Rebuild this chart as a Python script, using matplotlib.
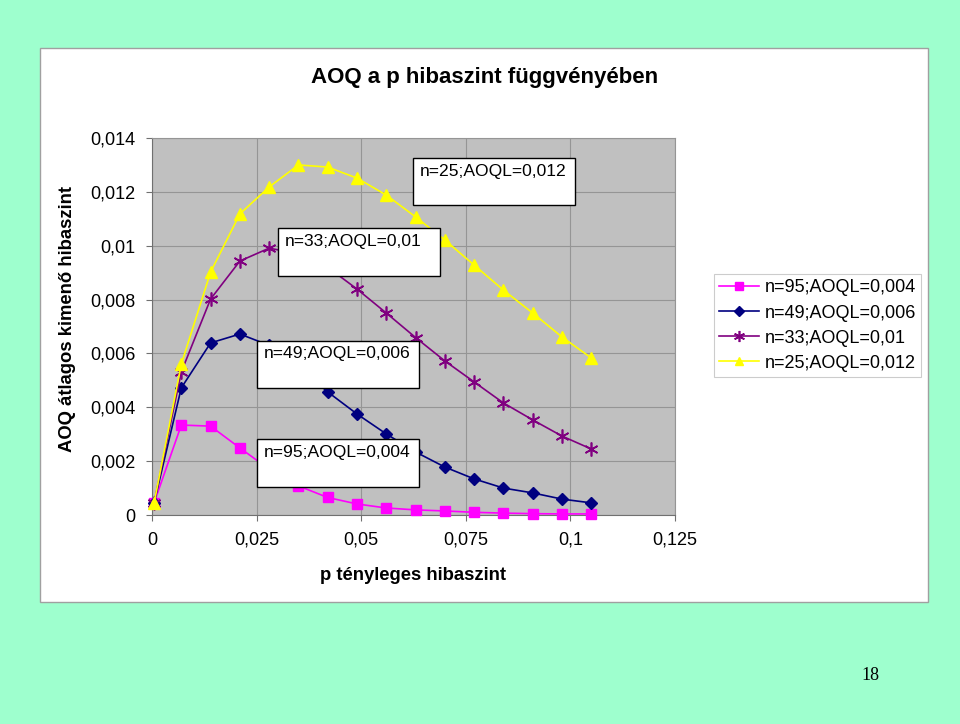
import matplotlib
matplotlib.use("Agg")
import matplotlib.pyplot as plt
from matplotlib.patches import Rectangle
from matplotlib.ticker import FuncFormatter

# p values (tényleges hibaszint)
p = [0.0005, 0.007, 0.014, 0.021, 0.028, 0.035, 0.042, 0.049,
     0.056, 0.063, 0.070, 0.077, 0.084, 0.091, 0.098, 0.105]

aoq_n95 = [0.00045, 0.00334, 0.0033, 0.00249, 0.0017, 0.00108, 0.00065, 0.00041,
           0.00026, 0.00019, 0.00015, 0.0001, 0.00007, 0.00005, 0.00004, 0.00004]
aoq_n49 = [0.00045, 0.00472, 0.00639, 0.00672, 0.0063, 0.0055, 0.00457, 0.00375,
           0.00301, 0.00234, 0.00178, 0.00134, 0.001, 0.00082, 0.00059, 0.00045]
aoq_n33 = [0.00045, 0.00531, 0.00802, 0.00943, 0.00991, 0.0097, 0.0092, 0.00839,
           0.0075, 0.00659, 0.00572, 0.00494, 0.00416, 0.00353, 0.00293, 0.00245]
aoq_n25 = [0.00045, 0.0056, 0.00902, 0.01118, 0.01218, 0.013, 0.01292, 0.01251,
           0.01188, 0.01107, 0.01021, 0.00928, 0.00835, 0.0075, 0.00661, 0.00583]

labels = ["n=95;AOQL=0,004", "n=49;AOQL=0,006", "n=33;AOQL=0,01", "n=25;AOQL=0,012"]

plt.rcParams['font.family'] = ['Liberation Sans', 'DejaVu Sans']

fig = plt.figure(figsize=(9.6, 7.24), dpi=100)
fig.patch.set_facecolor('#9EFFCE')

W, H = 960, 724


def fx(px):
    return px / W


def fy(py):
    return 1 - py / H


# white chart panel
fig.patches.append(Rectangle((fx(40), fy(602)), fx(928) - fx(40), fy(48) - fy(602),
                             transform=fig.transFigure, facecolor='white',
                             edgecolor='#A0A0A0', linewidth=1, zorder=-5))

ax = fig.add_axes([fx(152), fy(515), fx(675) - fx(152), fy(138) - fy(515)])
ax.set_zorder(2)
ax.set_facecolor('#C0C0C0')
ax.set_xlim(0, 0.125)
ax.set_ylim(0, 0.014)
ax.set_xticks([0, 0.025, 0.05, 0.075, 0.1, 0.125])
ax.set_yticks([0, 0.002, 0.004, 0.006, 0.008, 0.01, 0.012, 0.014])


def comma(v, pos):
    if v == 0:
        return '0'
    s = ('%.3f' % v).rstrip('0')
    return s.replace('.', ',')


ax.xaxis.set_major_formatter(FuncFormatter(comma))
ax.yaxis.set_major_formatter(FuncFormatter(comma))
ax.grid(True, color='#959595', linewidth=0.8)
ax.set_axisbelow(True)
for side in ['top', 'right']:
    ax.spines[side].set_color('#959595')
for side in ['left', 'bottom']:
    ax.spines[side].set_color('#707070')
ax.tick_params(labelsize=13, length=4, color='#707070', pad=8)

l95, = ax.plot(p, aoq_n95, '-s', color='#FF00FF', markersize=7, linewidth=1.2, clip_on=False, zorder=3)
l49, = ax.plot(p, aoq_n49, '-D', color='#000080', markersize=6, linewidth=1.2, clip_on=False, zorder=3)
l33, = ax.plot(p, aoq_n33, '-', color='#800080', marker=(6, 2, 0), markersize=10,
               markeredgewidth=1.2, linewidth=1.2, clip_on=False, zorder=3)
l25, = ax.plot(p, aoq_n25, '-^', color='#FFFF00', markersize=8, linewidth=1.2, clip_on=False, zorder=3)

# text boxes inside plot (axes fractions)
boxes = [
    ("n=25;AOQL=0,012", 0.499, 0.822, 0.809, 0.947),
    ("n=33;AOQL=0,01", 0.241, 0.634, 0.551, 0.761),
    ("n=49;AOQL=0,006", 0.201, 0.337, 0.511, 0.462),
    ("n=95;AOQL=0,004", 0.201, 0.074, 0.511, 0.202),
]
for txt, x0, y0, x1, y1 in boxes:
    ax.add_patch(Rectangle((x0, y0), x1 - x0, y1 - y0, transform=ax.transAxes,
                           facecolor='white', edgecolor='black', linewidth=1, zorder=5))
    ax.text(x0 + 0.013, y1 - 0.015, txt, transform=ax.transAxes, fontsize=12.6,
            ha='left', va='top', zorder=6)

fig.text(fx(485), fy(78), "AOQ a p hibaszint függvényében", fontsize=16, fontweight='bold',
         ha='center', va='center')
fig.text(fx(413), fy(575), "p tényleges hibaszint", fontsize=13.3, fontweight='bold',
         ha='center', va='center')
fig.text(fx(68), fy(452), "AOQ átlagos kimenő hibaszint", fontsize=13.3, fontweight='bold',
         rotation=90, ha='center', va='bottom')

leg = fig.legend([l95, l49, l33, l25], labels, loc='upper left',
                 bbox_to_anchor=(fx(714), fy(274)), borderaxespad=0, fontsize=13,
                 frameon=True, fancybox=False, edgecolor='#C0C0C0', handlelength=2.2,
                 handletextpad=0.3, labelspacing=0.45, borderpad=0.3, markerscale=0.8)
leg.get_frame().set_linewidth(0.8)

fig.text(fx(870), fy(676), "18", fontsize=13, family='Liberation Serif',
         ha='center', va='center')

fig.savefig('out.png', dpi=100, facecolor=fig.get_facecolor())
